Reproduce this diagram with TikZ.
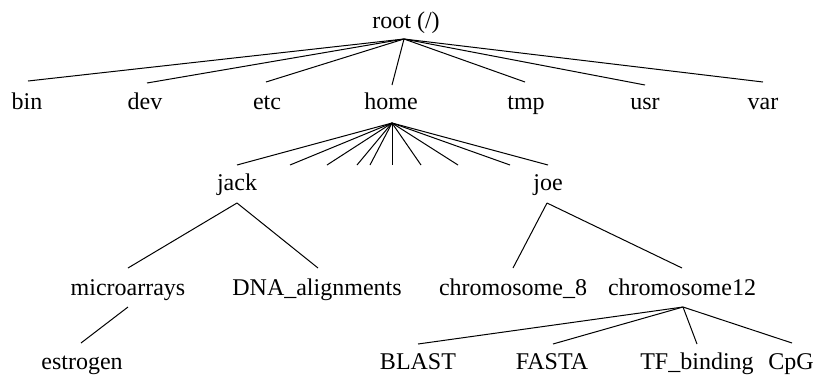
\documentclass[tikz,border=0pt]{standalone}
\usepackage{fontspec}
\setmainfont{Liberation Serif}
\begin{document}
\begin{tikzpicture}[x=1pt,y=-1pt,
  dir/.style={anchor=base,inner sep=0pt,font=\fontsize{24}{28}\selectfont},
  edge/.style={line width=1pt,black}]
\useasboundingbox (0,0) rectangle (817,376);

% directory names (placed on their baselines)
\node[dir] (root) at (406,28) {root (/)};
\node[dir] (bin)  at (27,109)  {bin};
\node[dir] (dev)  at (145,109) {dev};
\node[dir] (etc)  at (267,109) {etc};
\node[dir] (home) at (391,109) {home};
\node[dir] (tmp)  at (526,109) {tmp};
\node[dir] (usr)  at (645,109) {usr};
\node[dir] (var)  at (763,109) {var};
\node[dir] (jack) at (237,190) {jack};
\node[dir] (joe)  at (548,190) {joe};
\node[dir] (micro) at (128,295) {microarrays};
\node[dir] (dna)   at (317,295) {DNA\_alignments};
\node[dir] (chr8)  at (513,295) {chromosome\_8};
\node[dir] (chr12) at (682,295) {chromosome12};
\node[dir] (estr)  at (82,369)  {estrogen};
\node[dir] (blast) at (418,369) {BLAST};
\node[dir] (fasta) at (552,369) {FASTA};
\node[dir] (tfb)   at (697,369) {TF\_binding};
\node[dir] (cpg)   at (791,369) {CpG};

% branching points under each parent
\coordinate (root-b)  at (404,39);
\coordinate (home-b)  at (392,123);
\coordinate (jack-b)  at (237,203);
\coordinate (joe-b)   at (547,203);
\coordinate (micro-b) at (128,307);
\coordinate (chr12-b) at (683,307);

% line ends above each child
\coordinate (bin-t)  at (28,81);
\coordinate (dev-t)  at (147,83);
\coordinate (etc-t)  at (266,82);
\coordinate (home-t) at (392,85);
\coordinate (tmp-t)  at (525,82);
\coordinate (usr-t)  at (645,85);
\coordinate (var-t)  at (763,82);
\coordinate (jack-t) at (237,165);
\coordinate (joe-t)  at (548,165);
\coordinate (micro-t) at (128,268);
\coordinate (dna-t)   at (318,268);
\coordinate (chr8-t)  at (513,268);
\coordinate (chr12-t) at (682,268);
\coordinate (estr-t)  at (81,343);
\coordinate (blast-t) at (418,344);
\coordinate (fasta-t) at (553,344);
\coordinate (tfb-t)   at (697,344);
\coordinate (cpg-t)   at (792,343);

% unnamed subdirectories of home
\coordinate (h1) at (290,165);
\coordinate (h2) at (327,165);
\coordinate (h3) at (357,165);
\coordinate (h4) at (370,165);
\coordinate (h5) at (392,165);
\coordinate (h6) at (421,165);
\coordinate (h7) at (458,165);
\coordinate (h8) at (510,165);

% connectors
\foreach \c in {bin,dev,etc,home,tmp,usr,var}
  \draw[edge] (root-b) -- (\c-t);
\foreach \c in {jack-t,h1,h2,h3,h4,h5,h6,h7,h8,joe-t}
  \draw[edge] (home-b) -- (\c);
\draw[edge] (jack-b) -- (micro-t);
\draw[edge] (jack-b) -- (dna-t);
\draw[edge] (joe-b) -- (chr8-t);
\draw[edge] (joe-b) -- (chr12-t);
\draw[edge] (micro-b) -- (estr-t);
\foreach \c in {blast,fasta,tfb,cpg}
  \draw[edge] (chr12-b) -- (\c-t);
\end{tikzpicture}
\end{document}
